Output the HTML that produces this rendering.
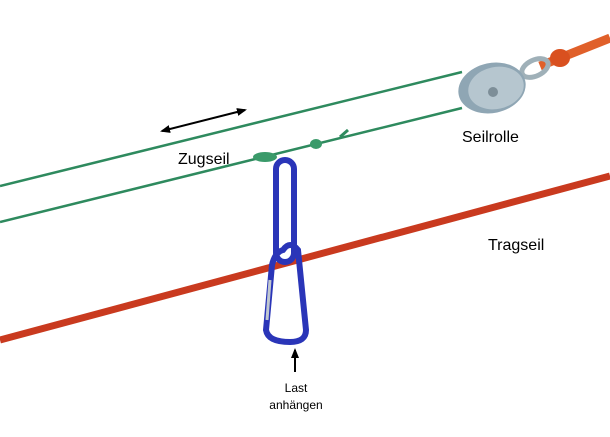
<!DOCTYPE html>
<html><head><style>
html,body{margin:0;padding:0;background:#fff;}
svg{display:block;font-family:"Liberation Sans",sans-serif;}
</style></head><body>
<svg width="610" height="437" viewBox="0 0 610 437">
<defs>
<marker id="ah" markerUnits="userSpaceOnUse" markerWidth="10" markerHeight="8" refX="8" refY="4" orient="auto"><path d="M0,0 L10,4 L0,8 Z" fill="#000"/></marker>
<marker id="ahs" markerUnits="userSpaceOnUse" markerWidth="10" markerHeight="8" refX="2" refY="4" orient="auto"><path d="M10,0 L0,4 L10,8 Z" fill="#000"/></marker>
</defs>
<line x1="0" y1="340" x2="610" y2="176" stroke="#c93a1f" stroke-width="7"/>
<line x1="540" y1="66" x2="610" y2="38" stroke="#e0602a" stroke-width="9"/>
<ellipse cx="560" cy="58" rx="10" ry="9" fill="#d9501f"/>
<ellipse cx="535" cy="68" rx="14" ry="8" fill="none" stroke="#9fb0b8" stroke-width="5" transform="rotate(-25 535 68)"/>
<line x1="0" y1="186" x2="462" y2="72" stroke="#2e8a5e" stroke-width="2.5"/>
<line x1="0" y1="222" x2="462" y2="108" stroke="#2e8a5e" stroke-width="2.5"/>
<line x1="340" y1="137" x2="348" y2="130" stroke="#2e8a5e" stroke-width="3"/>
<ellipse cx="316" cy="144" rx="6" ry="5" fill="#3a9a6a"/>
<ellipse cx="265" cy="157" rx="12" ry="5" fill="#3a9a6a"/>
<ellipse cx="492" cy="88" rx="34" ry="25" fill="#8fa6b4" transform="rotate(-12 492 88)"/>
<ellipse cx="496" cy="88" rx="28" ry="21" fill="#b6c6cf" transform="rotate(-12 496 88)"/>
<circle cx="493" cy="92" r="5" fill="#7d8e98"/>
<rect x="276" y="160" width="18" height="102" rx="9" fill="none" stroke="#2a35b8" stroke-width="6"/>
<path d="M283,250 Q290,240 298,250 L306,330 Q306,342 290,342 Q268,342 266,330 L272,265 Q275,252 283,250 Z" fill="none" stroke="#2a35b8" stroke-width="6"/>
<line x1="270" y1="280" x2="267" y2="320" stroke="#c0c8d0" stroke-width="3"/>
<line x1="162" y1="131" x2="245" y2="110" stroke="#000" stroke-width="2" marker-end="url(#ah)" marker-start="url(#ahs)"/>
<line x1="295" y1="372" x2="295" y2="350" stroke="#000" stroke-width="2" marker-end="url(#ah)"/>
<text x="178" y="164" font-size="16">Zugseil</text>
<text x="462" y="142" font-size="16">Seilrolle</text>
<text x="488" y="250" font-size="16">Tragseil</text>
<text x="296" y="392" font-size="12" text-anchor="middle">Last</text>
<text x="296" y="409" font-size="12" text-anchor="middle">anhängen</text>
</svg>
</body></html>
